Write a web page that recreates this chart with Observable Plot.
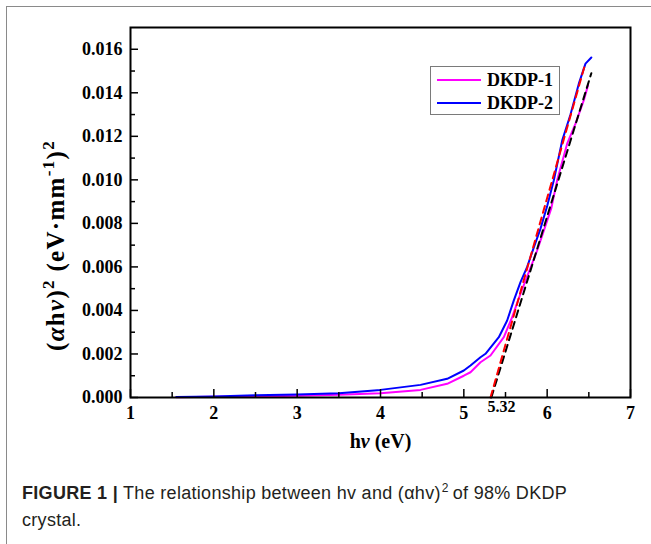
<!DOCTYPE html>
<html>
<head>
<meta charset="utf-8">
<script src="https://cdn.jsdelivr.net/npm/d3@7"></script>
<script src="https://cdn.jsdelivr.net/npm/@observablehq/plot@0.6"></script>
<style>
  html, body { margin: 0; padding: 0; background: #fff; }
  body { width: 651px; height: 544px; position: relative; overflow: hidden; }
  #border { position: absolute; left: 6px; top: 6px; width: 660px; height: 560px;
            border-left: 1.5px solid #8a8a8a; border-top: 1.5px solid #8a8a8a; }
  #chart { position: absolute; left: 0; top: 0; }
  #legend { position: absolute; left: 430px; top: 66px; width: 128px; height: 47px;
            border: 1.5px solid #7a7a7a; background: #fff;
            font-family: "Liberation Serif", "Times New Roman", serif; font-weight: bold; font-size: 18px; }
  .row { position: absolute; left: 6px; height: 22px; display: flex; align-items: center; }
  .sw { width: 44px; height: 2px; margin-right: 6px; }
  #caption { position: absolute; left: 22px; top: 480px; width: 600px;
             font-family: "Liberation Sans", Arial, sans-serif; letter-spacing: 0.3px;
             font-size: 18px; line-height: 27px; color: #231f20; }
  #caption .line { white-space: nowrap; height: 27px; }
  #caption b { font-weight: bold; margin-right: 5px; }
  #caption sup { font-size: 12px; vertical-align: 7px; line-height: 0; margin: 0 4px 0 1px; }
</style>
</head>
<body>
<div id="border"></div>
<div id="chart"></div>
<div id="legend"></div>
<div id="caption">
  <div class="line"><b>FIGURE 1 |</b><span>The relationship between hv and (αhv)</span><sup>2</sup><span>of 98% DKDP</span></div>
  <div class="line"><span>crystal.</span></div>
</div>
<script>
// ---- data ----
const series = ["DKDP-1", "DKDP-2"];
const colors = ["#ff00ff", "#0000ff"];

const hv1 = [1.55, 2.0, 2.5, 3.0, 3.5, 4.0, 4.48, 4.8, 5.0, 5.08, 5.2, 5.32, 5.48, 5.58, 5.68, 5.78, 5.88, 5.98, 6.05, 6.12, 6.24, 6.34, 6.44, 6.49];
const a1  = [0.00001, 0.00003, 0.00005, 0.00008, 0.00013, 0.0002, 0.00035, 0.00063, 0.001, 0.00116, 0.00162, 0.00193, 0.00277, 0.00369, 0.00477, 0.00576, 0.00676, 0.0079, 0.0087, 0.00998, 0.01166, 0.01258, 0.01366, 0.01434];

const hv2 = [1.55, 2.0, 2.5, 3.0, 3.5, 4.0, 4.48, 4.8, 5.0, 5.08, 5.2, 5.26, 5.42, 5.52, 5.60, 5.68, 5.76, 5.84, 5.92, 6.0, 6.08, 6.18, 6.28, 6.38, 6.46, 6.53];
const a2  = [0.00002, 0.00005, 0.0001, 0.00014, 0.0002, 0.00035, 0.00058, 0.00086, 0.00124, 0.00147, 0.00185, 0.00201, 0.00277, 0.00354, 0.00446, 0.0053, 0.006, 0.0069, 0.00776, 0.0088, 0.00998, 0.0118, 0.0130, 0.01442, 0.01534, 0.01562];

// linear fits (tangent lines) to the absorption edges
const fitBlackX = [5.33, 6.53];
const fitBlackY = [0, 0.0149];
const fitRedX = [5.32, 6.46];
const fitRedY = [0, 0.01537];

const gapLabel = "5.32";
const gapValue = 5.32;

const xTicks = [1, 2, 3, 4, 5, 6, 7];
const xMinor = [1.5, 2.5, 3.5, 4.5, 5.5, 6.5];
const yTicks = [0, 0.002, 0.004, 0.006, 0.008, 0.010, 0.012, 0.014, 0.016];
const yMinor = [0.001, 0.003, 0.005, 0.007, 0.009, 0.011, 0.013, 0.015];

const xLabel = "hν (eV)";
const yLabel = "(αhν)2 (eV·mm-1)2";

// ---- build tables ----
const curve1 = hv1.map((x, i) => ({x, y: a1[i]}));
const curve2 = hv2.map((x, i) => ({x, y: a2[i]}));
const blackFit = fitBlackX.map((x, i) => ({x, y: fitBlackY[i]}));
const redFit = fitRedX.map((x, i) => ({x, y: fitRedY[i]}));

const W = 651, H = 460, mT = 27, mR = 21, mB = 63, mL = 130;
const fh = H - mT - mB, fw = W - mL - mR;
const serif = "Liberation Serif, Times New Roman, serif";

const chart = Plot.plot({
  width: W, height: H,
  marginTop: mT, marginRight: mR, marginBottom: mB, marginLeft: mL,
  style: {fontFamily: serif, fontWeight: "bold", fontSize: "18px", color: "#000", background: "transparent"},
  x: {domain: [1, 7]},
  y: {domain: [0, 0.017]},
  marks: [
    Plot.line(curve1, {x: "x", y: "y", stroke: colors[0], strokeWidth: 2}),
    Plot.line(curve2, {x: "x", y: "y", stroke: colors[1], strokeWidth: 2}),
    Plot.line(blackFit, {x: "x", y: "y", stroke: "#000", strokeWidth: 2, strokeDasharray: "7,5"}),
    Plot.line(redFit, {x: "x", y: "y", stroke: "#ff0000", strokeWidth: 2, strokeDasharray: "7,5"}),
    // inward ticks
    Plot.tickX(xTicks, {x: d => d, insetTop: fh - 8, stroke: "#000", strokeWidth: 1.5}),
    Plot.tickX(xMinor, {x: d => d, insetTop: fh - 5, stroke: "#000", strokeWidth: 1.5}),
    Plot.tickY(yTicks, {y: d => d, insetRight: fw - 8, stroke: "#000", strokeWidth: 1.5}),
    Plot.tickY(yMinor, {y: d => d, insetRight: fw - 5, stroke: "#000", strokeWidth: 1.5}),
    Plot.axisX({ticks: xTicks, tickSize: 0, tickPadding: 9, tickFormat: d3.format("d"),
                label: xLabel, labelAnchor: "center", labelOffset: 50, labelArrow: "none"}),
    Plot.axisY({ticks: yTicks, tickSize: 0, tickPadding: 8, tickFormat: d3.format(".3f"),
                label: yLabel, labelAnchor: "center", labelOffset: 84, labelArrow: "none"}),
    Plot.text([gapValue], {x: d => d, frameAnchor: "bottom", dy: 14, dx: -3, textAnchor: "start",
               text: () => gapLabel, fontSize: 16, fontWeight: "bold", fill: "#000"}),
    Plot.frame({stroke: "#000", strokeWidth: 2})
  ]
});
document.getElementById("chart").appendChild(chart);

// rebuild axis titles with italic and superscript parts
const svg = d3.select(chart);
svg.selectAll("text").each(function() {
  const t = d3.select(this);
  const s = t.text();
  if (s === xLabel) {
    t.text(null).style("font-size", "20px");
    t.append("tspan").text("h");
    t.append("tspan").style("font-style", "italic").text("ν");
    t.append("tspan").text(" (eV)");
  } else if (s === yLabel) {
    t.text(null).style("font-size", "25px").style("letter-spacing", "1.3px").attr("dx", -33);
    t.append("tspan").text("(");
    t.append("tspan").style("font-style", "italic").text("α");
    t.append("tspan").text("h");
    t.append("tspan").style("font-style", "italic").text("ν");
    t.append("tspan").text(")");
    t.append("tspan").attr("dy", -10).style("font-size", "17px").text("2");
    t.append("tspan").attr("dy", 10).text(" (eV·mm");
    t.append("tspan").attr("dy", -10).style("font-size", "17px").text("-1");
    t.append("tspan").attr("dy", 10).text(")");
    t.append("tspan").attr("dy", -10).style("font-size", "17px").text("2");
  }
});

// legend
const leg = document.getElementById("legend");
series.forEach((s, i) => {
  const row = document.createElement("div");
  row.className = "row";
  row.style.top = (i === 0 ? 2 : 25) + "px";
  row.innerHTML = `<div class="sw" style="background:${colors[i]}"></div><span>${s}</span>`;
  leg.appendChild(row);
});
</script>
</body>
</html>
